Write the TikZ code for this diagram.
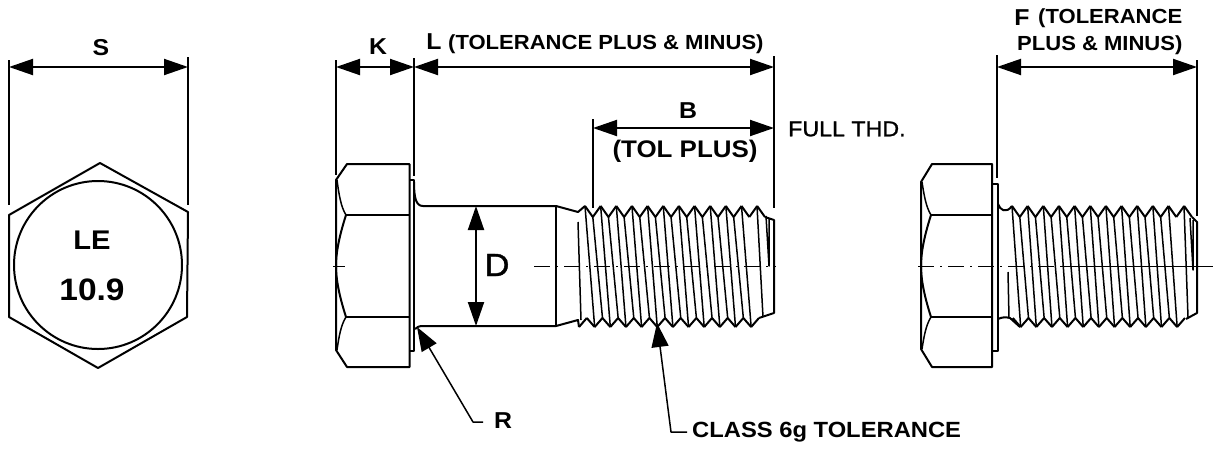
\documentclass[tikz,border=0pt]{standalone}
\usepackage{fontspec}
\setmainfont[FakeStretch=1.08]{Liberation Sans}
\newfontfamily\medfont[FakeStretch=1.08,FakeBold=1.2]{Liberation Sans}
\usetikzlibrary{arrows.meta}

\begin{document}
\begin{tikzpicture}[x=1pt,y=-1pt,line join=round,
                    outline/.style={draw,line width=2pt},
                    hair/.style={draw,line width=1.5pt},
                    extline/.style={draw,line width=1.7pt},
                    dimline/.style={draw,line width=2pt,{Triangle[length=24pt,width=16pt]}-{Triangle[length=24pt,width=16pt]}},
                    leader/.style={draw,line width=1.5pt,{Triangle[length=24pt,width=17pt]}-},
                    centre/.style={draw,line width=1pt,dash pattern=on 16pt off 6pt on 2pt off 6pt},
                    lab/.style={font=\fontsize{23}{23}\selectfont\bfseries,inner sep=0pt},
                    tol/.style={font=\fontsize{20.4}{20.4}\selectfont\bfseries,inner sep=0pt,anchor=west}]
  \useasboundingbox (0,0) rectangle (1215,448);

  % end view
  \draw[outline] (100,163) -- (188,212) -- (187,317) -- (98,368) -- (9,317) -- (9,215) -- cycle;
  \draw[outline] (98,265) circle (84);
  \node[lab,font=\fontsize{27}{27}\selectfont\bfseries] (mark) at (92,240) {LE};
  \node[lab,font=\fontsize{31}{31}\selectfont\bfseries] (grade) at (92,290) {10.9};
  \coordinate (sl) at (9,67);
  \coordinate (sr) at (188,67);
  \draw[extline] (9,60) -- (9,205);
  \draw[extline] (188,57) -- (188,205);
  \draw[dimline] (sl) -- (sr);
  \node[lab] (s) at (101,48) {S};

  % the two heads
  \foreach \x/\w/\a/\b in {336/73.5/180/350,921/71/182/349} {
    \begin{scope}[shift={(\x,0)}]
      \draw[outline] (0,\a) -- (11,164) -- (\w,164) -- (\w,367) -- (11,367) -- (0,\b) -- cycle;
      \draw[outline] (10,215) -- (\w,215) (10,317) -- (\w,317);
      \draw[hair] (1,\a) .. controls (3,195) and (5,207) .. (10,215);
      \draw[hair] (1,\b) .. controls (3,336) and (5,325) .. (10,317);
      \draw[outline] (10,215) .. controls (2,240) and (0,255) .. (0,266) .. controls (0,277) and (2,292) .. (10,317);
    \end{scope}
  }
  \draw[outline] (409.5,180) -- (414,180) -- (414,351) -- (409.5,351);
  \draw[outline] (992,184) -- (998,184) -- (998,351) -- (992,351);

  % shank
  \draw[outline] (414,182) .. controls (414,198) and (416,206) .. (423,206) -- (556,206) -- (578,212) -- (585,206);
  \draw[outline] (415,329) .. controls (417,327) and (419,326) .. (423,326) -- (556,326) -- (578,320) -- (579,327);
  \draw[hair] (556,206) -- (556,326);
  \draw[outline] (998,204) .. controls (1000,210) and (1006,214) .. (1012,206);
  \draw[outline] (998,319) .. controls (1002,317) and (1006,317) .. (1010,318) -- (1020,327);
  \draw[hair] (1008,272) -- (1009,318);

  % threads
  \foreach \xa/\xb in {585/579,1012/1005} {
    \foreach[evaluate={\tx=\xa+15.65*\n; \bx=\xb+15.65*\n;}] \n in {0,...,11} {
      \draw[outline] (\tx,206) -- (\tx+7.8,217);
      \ifnum\n<11
        \draw[outline] (\tx+7.8,217) -- (\tx+15.65,206);
        \draw[hair] (\tx,206) -- (\bx+15.65,327);
        \draw[outline] (\bx+7.8,318) -- (\bx+15.65,327);
      \fi
      \ifnum\n<10
        \draw[hair] (\tx+7.8,217) -- (\bx+23.5,318);
      \fi
      \ifnum\xb=579
        \draw[outline] (\bx,327) -- (\bx+7.8,318);
      \else\ifnum\n>0
        \draw[outline] (\bx,327) -- (\bx+7.8,318);
      \fi\fi
    }
  }
  \draw[hair] (578,222) -- (581,320);
  \draw[hair] (757,206) -- (763,317);
  \draw[outline] (765,217) -- (774,220) -- (774,313) -- (759,318);
  \draw[hair] (766,216) -- (769,266) -- (769,218);
  \draw[hair] (1184,206) -- (1188,317);
  \draw[outline] (1192,217) -- (1197,222) -- (1197,313) -- (1186,319);
  \draw[hair] (1190,218) -- (1193,270) -- (1193,220);

  % centre lines
  \draw[centre] (534,266) -- (776,266);
  \draw[centre] (333,266) -- (345,266);
  \draw[centre] (918,266.5) -- (1060,266.5);
  \draw[hair] (1060,266.5) -- (1213,266.5);

  % dimensions
  \coordinate (ka) at (336,67);
  \coordinate (kb) at (414,67);
  \coordinate (lb) at (774,67);
  \coordinate (ba) at (593,128);
  \coordinate (bb) at (774,128);
  \coordinate (fa) at (997,67);
  \coordinate (fb) at (1197,67);
  \coordinate (da) at (476,206);
  \coordinate (db) at (476,326);
  \draw[extline] (336,60) -- (336,175);
  \draw[extline] (414,58) -- (414,176);
  \draw[extline] (774,56) -- (774,208);
  \draw[extline] (593,119) -- (593,208);
  \draw[extline] (997,55) -- (997,178);
  \draw[extline] (1197,60) -- (1197,216);
  \draw[dimline] (ka) -- (kb);
  \draw[dimline] (kb) -- (lb);
  \draw[dimline] (ba) -- (bb);
  \draw[dimline] (fa) -- (fb);
  \draw[dimline] (da) -- (db);

  \node[lab] (k) at (378,47) {K};
  \node[lab] (l) at (434,42) {L};
  \node[tol] (ltol) at (448,44) {(TOLERANCE PLUS \& MINUS)};
  \node[lab] (b) at (688,111) {B};
  \node[lab,font=\fontsize{24}{24}\selectfont\bfseries] (btol) at (685,151) {(TOL PLUS)};
  \node[font=\fontsize{21.5}{21.5}\medfont,inner sep=0pt,anchor=west] (thd) at (788,129) {FULL THD.};
  \node[lab] (f) at (1022,18) {F};
  \node[tol] (ftol) at (1038,18) {(TOLERANCE};
  \node[tol] (fplus) at (1017,45) {PLUS \& MINUS)};
  \node[font=\fontsize{32}{32}\medfont,inner sep=0pt] (d) at (497,265) {D};

  % leaders
  \coordinate (rtip) at (417,327);
  \coordinate (rmid) at (473,422);
  \coordinate (ctip) at (657,323);
  \coordinate (cmid) at (671,432);
  \draw[leader] (rtip) -- (rmid) -- (483,422);
  \node[lab] (r) at (503,421) {R};
  \draw[leader] (ctip) -- (cmid) -- (687,432);
  \node[lab,font=\fontsize{22}{22}\selectfont\bfseries,anchor=west] (cls) at (692,432) {CLASS 6g TOLERANCE};
\end{tikzpicture}
\end{document}
